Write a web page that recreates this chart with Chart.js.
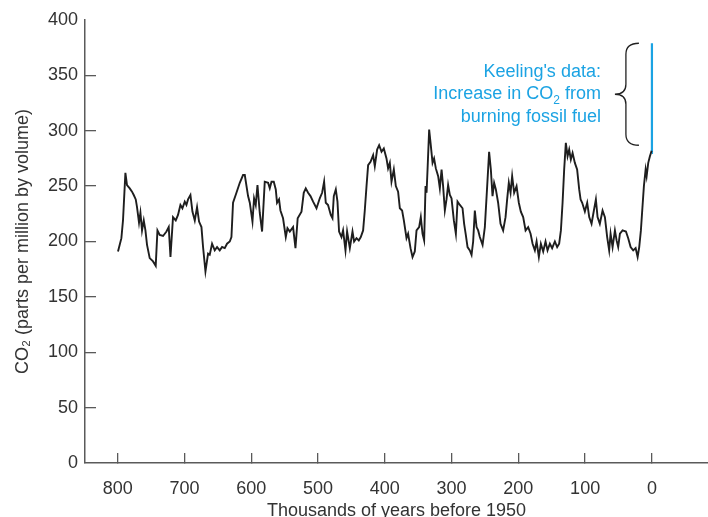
<!DOCTYPE html>
<html>
<head>
<meta charset="utf-8">
<title>CO2 over 800,000 years</title>
<script src="https://cdn.jsdelivr.net/npm/chart.js@4.4.0/dist/chart.umd.min.js"></script>
<style>
  html, body { margin: 0; padding: 0; background: #fff; }
  #wrap { width: 708px; height: 517px; }
</style>
</head>
<body>
<div id="wrap"><canvas id="co2Chart"></canvas></div>
<script>
// ice core record, thousands of years before 1950
const years = [799.6,794.5,792.1,788.5,786.1,782.0,778.6,776.0,773.0,771.1,768.1,766.0,763.6,761.0,758.5,756.1,752.1,747.1,743.1,740.5,
  737.1,732.1,727.0,723.6,721.0,717.2,713.1,709.7,706.1,703.1,699.6,697.1,694.7,691.1,688.1,684.6,681.2,678.2,674.6,672.2,
  668.6,664.7,662.2,658.7,654.7,651.2,647.2,643.7,639.7,636.3,632.2,629.7,627.3,622.2,617.2,612.3,609.7,604.8,602.2,598.2,
  595.8,593.3,590.7,587.3,583.8,579.8,574.8,572.3,569.7,566.3,563.3,561.4,558.4,556.3,552.4,548.3,545.8,542.3,537.4,533.8,
  530.5,524.8,521.4,518.4,514.9,511.3,507.4,502.3,497.4,493.9,490.9,488.4,485.0,480.9,478.4,476.4,473.4,470.9,468.5,464.9,
  462.5,458.9,456.5,452.4,448.4,446.0,442.4,439.0,436.0,432.5,430.0,427.4,425.0,421.4,417.5,415.0,411.5,408.5,404.9,401.5,
  397.5,395.1,392.5,390.0,386.5,383.5,380.1,377.5,374.1,371.5,367.5,365.1,361.5,358.5,355.1,352.5,348.6,346.1,343.5,341.1,
  339.0,337.5,336.0,333.6,331.5,328.5,326.2,323.6,320.1,317.6,315.0,312.7,310.1,307.6,305.2,302.6,300.1,296.6,293.6,291.1,
  287.6,283.6,281.2,278.7,276.1,272.7,270.1,267.7,265.2,262.6,260.2,257.7,253.6,250.2,246.7,243.8,241.2,238.7,236.3,233.7,
  230.3,226.7,222.8,219.2,216.8,214.3,211.7,209.3,206.3,202.7,199.3,196.3,192.8,189.2,185.3,181.7,178.7,175.3,172.7,169.3,
  166.3,162.8,159.3,156.3,152.8,149.4,145.3,141.9,138.9,136.3,133.8,131.4,128.9,126.3,123.9,121.4,118.8,115.4,112.0,108.9,
  106.8,104.4,100.4,96.9,93.9,90.4,86.9,83.9,81.4,78.0,73.9,70.4,67.0,64.0,61.9,58.9,55.4,52.9,50.5,47.9,
  43.9,38.9,35.5,31.9,28.0,24.4,21.4,19.0,16.5,14.5,12.0,9.4,7.9,5.5,3.0,0.4];

// CO2 in ppmv, one value per entry of years
const co2 = [191,203,219,262,251,248,245,242,238,231,217,226,210,219,210,197,185,182,178,210,
  206,205,209,213,186,222,219,224,233,230,236,233,238,242,227,219,231,218,213,195,
  173,189,188,198,192,195,192,195,194,198,200,204,235,244,253,260,260,241,235,218,
  239,233,251,226,209,254,253,248,254,254,247,235,238,228,221,204,212,209,213,194,
  221,227,244,248,244,241,236,230,239,244,254,235,233,224,221,241,247,236,209,204,
  210,192,209,194,209,200,203,201,204,210,228,250,269,272,278,268,283,287,281,284,
  275,266,271,254,265,250,245,230,228,219,203,207,194,186,191,210,213,222,207,201,
  250,244,265,301,289,271,275,266,259,248,265,250,228,238,251,242,239,219,207,236,
  233,230,216,206,195,192,188,200,228,213,210,204,197,213,250,281,265,241,253,247,
  235,216,210,222,238,253,244,259,244,250,235,227,222,210,213,207,198,192,200,186,
  198,191,200,192,198,194,200,195,198,210,235,265,289,277,283,274,280,271,265,247,
  238,235,227,235,222,216,228,238,222,216,228,222,204,192,207,195,210,201,195,207,
  210,209,203,195,192,194,186,195,210,228,250,265,259,271,277,282];

// Keeling's Mauna Loa measurements (1950 onward)
const keelingYears = [0, -0.008, -0.057];
const keelingCo2 = [280, 315, 379];

const xTicks = [800, 700, 600, 500, 400, 300, 200, 100, 0];
const yTicks = [0, 50, 100, 150, 200, 250, 300, 350, 400];

const FONT = "'Liberation Sans', Arial, Helvetica, sans-serif";
const AXIS = '#5a5a5a';
const TEXT = '#333333';
const BLUE = '#1ba3e3';

// curly brace and blue label next to the Keeling segment
const keelingNote = {
  id: 'keelingNote',
  afterDraw(chart) {
    const { ctx, scales } = chart;
    const px = scales.x.getPixelForValue(keelingYears[0]);
    const top = scales.y.getPixelForValue(Math.max(...keelingCo2));
    const bottom = top + 102;
    const mid = (top + bottom) / 2;
    const endX = px - 13, bodyX = px - 26, tipX = px - 37;

    ctx.save();
    ctx.strokeStyle = '#222';
    ctx.lineWidth = 1.3;
    ctx.beginPath();
    ctx.moveTo(endX, top);
    ctx.quadraticCurveTo(bodyX, top, bodyX, top + 11);
    ctx.lineTo(bodyX, mid - 10);
    ctx.quadraticCurveTo(bodyX, mid, tipX, mid);
    ctx.quadraticCurveTo(bodyX, mid, bodyX, mid + 10);
    ctx.lineTo(bodyX, bottom - 11);
    ctx.quadraticCurveTo(bodyX, bottom, endX, bottom);
    ctx.stroke();

    const right = tipX - 14;
    ctx.fillStyle = BLUE;
    ctx.textBaseline = 'middle';
    ctx.font = '18px ' + FONT;
    ctx.textAlign = 'right';
    ctx.fillText("Keeling's data:", right, mid - 22);
    ctx.fillText('burning fossil fuel', right, mid + 23);

    // middle line with a subscript 2
    const a = 'Increase in CO', b = ' from';
    ctx.textAlign = 'left';
    const wa = ctx.measureText(a).width;
    const wb = ctx.measureText(b).width;
    ctx.font = '12px ' + FONT;
    const ws = ctx.measureText('2').width;
    let x = right - (wa + ws + wb);
    ctx.font = '18px ' + FONT;
    ctx.fillText(a, x, mid);
    ctx.font = '12px ' + FONT;
    ctx.fillText('2', x + wa, mid + 6);
    ctx.font = '18px ' + FONT;
    ctx.fillText(b, x + wa + ws, mid);
    ctx.restore();
  }
};

const ctx = document.getElementById('co2Chart').getContext('2d');
new Chart(ctx, {
  type: 'scatter',
  data: {
    datasets: [
      {
        data: years.map((x, i) => ({ x: x, y: co2[i] })),
        showLine: true,
        borderColor: '#1e1e1e',
        borderWidth: 1.9,
        pointRadius: 0,
        tension: 0
      },
      {
        data: keelingYears.map((x, i) => ({ x: x, y: keelingCo2[i] })),
        showLine: true,
        borderColor: BLUE,
        borderWidth: 2.2,
        pointRadius: 0,
        tension: 0
      }
    ]
  },
  options: {
    responsive: true,
    maintainAspectRatio: false,
    animation: false,
    layout: { padding: { top: 20, right: 0, bottom: 0, left: 0 } },
    plugins: { legend: { display: false }, tooltip: { enabled: false } },
    scales: {
      x: {
        type: 'linear',
        reverse: true,
        min: -84,
        max: 849,
        afterBuildTicks: (s) => { s.ticks = xTicks.map(v => ({ value: v })); },
        afterFit: (s) => { s.height = 54; s.paddingLeft = 0; s.paddingRight = 0; },
        border: { color: AXIS, width: 1.5 },
        grid: { drawOnChartArea: false, drawTicks: true, tickLength: -10, color: AXIS, lineWidth: 1.3 },
        ticks: { padding: 25, color: TEXT, font: { size: 18, family: FONT } },
        title: {
          display: true,
          text: 'Thousands of years before 1950',
          color: TEXT,
          font: { size: 18, family: FONT },
          padding: { top: 0, bottom: -5 }
        }
      },
      y: {
        min: 0,
        max: 400,
        afterBuildTicks: (s) => { s.ticks = yTicks.map(v => ({ value: v })); },
        afterFit: (s) => { s.width = 85; s.paddingTop = 0; s.paddingBottom = 0; },
        border: { color: AXIS, width: 1.5 },
        grid: {
          drawOnChartArea: false,
          drawTicks: true,
          tickLength: -11,
          lineWidth: 1.3,
          color: (c) => (c.tick && (c.tick.value === 400 || c.tick.value === 0)) ? 'rgba(0,0,0,0)' : AXIS
        },
        ticks: { padding: 18, color: TEXT, font: { size: 18, family: FONT } },
        title: {
          display: true,
          text: 'CO\u2082 (parts per million by volume)',
          color: TEXT,
          font: { size: 18, family: FONT },
          padding: { top: 12, bottom: 0 }
        }
      }
    }
  },
  plugins: [keelingNote]
});
</script>
</body>
</html>
